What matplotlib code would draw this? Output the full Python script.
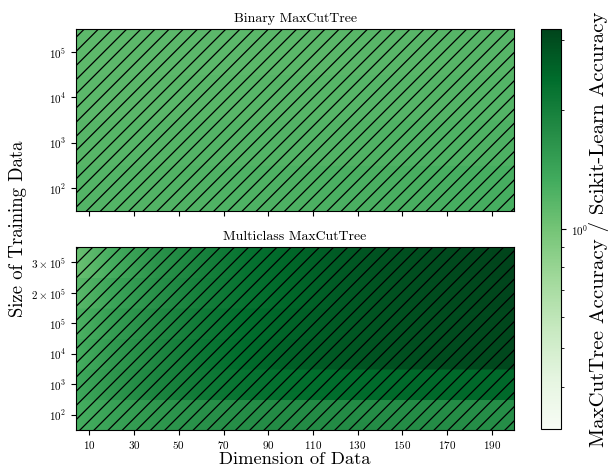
import numpy as np
import matplotlib
matplotlib.use("Agg")
import matplotlib.pyplot as plt
from matplotlib.colors import LogNorm
from matplotlib.cm import ScalarMappable
from matplotlib.patches import Rectangle
from matplotlib.ticker import NullFormatter

plt.rcParams['font.family'] = ['cmr10']
plt.rcParams['mathtext.fontset'] = 'cm'
plt.rcParams['axes.formatter.use_mathtext'] = True

# Rendering resolution; point sizes are scaled so pixel sizes stay fixed
DPI = 85
S = 100.0 / DPI
plt.rcParams['hatch.linewidth'] = 0.9 * S
plt.rcParams['axes.linewidth'] = 0.8 * S

# Data dimensions at which accuracy ratios are sampled
dims = [4, 20, 40, 60, 80, 100, 120, 140, 160, 180, 200]

# Training-set sizes (rows, bottom to top)
binary_sizes = [r'$10^2$', r'$10^3$', r'$10^4$', r'$10^5$']
multi_sizes = [r'$10^2$', r'$10^3$', r'$10^4$', r'$10^5$',
               r'$2\times10^5$', r'$3\times10^5$']

# MaxCutTree accuracy / scikit-learn accuracy, binary task
binary_ratio = [
    [1.20, 1.21, 1.22, 1.23, 1.24, 1.25, 1.26, 1.27, 1.28, 1.29, 1.30],  # 1e2
    [1.17, 1.18, 1.19, 1.20, 1.21, 1.22, 1.22, 1.23, 1.24, 1.24, 1.25],  # 1e3
    [1.15, 1.15, 1.16, 1.17, 1.17, 1.18, 1.18, 1.19, 1.19, 1.20, 1.20],  # 1e4
    [1.14, 1.14, 1.15, 1.15, 1.15, 1.16, 1.16, 1.17, 1.17, 1.18, 1.18],  # 1e5
]

# MaxCutTree accuracy / scikit-learn accuracy, multiclass task
multi_ratio = [
    [1.30, 1.45, 1.60, 1.70, 1.75, 1.78, 1.78, 1.77, 1.76, 1.75, 1.75],  # 1e2
    [1.35, 1.60, 1.90, 2.10, 2.25, 2.32, 2.38, 2.42, 2.44, 2.45, 2.45],  # 1e3
    [1.30, 1.55, 1.85, 2.15, 2.40, 2.60, 2.75, 2.88, 2.98, 3.05, 3.10],  # 1e4
    [1.25, 1.50, 1.80, 2.10, 2.35, 2.55, 2.72, 2.86, 2.97, 3.05, 3.12],  # 1e5
    [1.15, 1.40, 1.70, 2.00, 2.25, 2.50, 2.70, 2.85, 2.98, 3.08, 3.15],  # 2e5
    [1.05, 1.30, 1.65, 1.95, 2.25, 2.50, 2.70, 2.87, 3.00, 3.10, 3.20],  # 3e5
]

vmax = 3.2
vmin = 1.0 / vmax
norm = LogNorm(vmin=vmin, vmax=vmax)
cmap = 'Greens'

fig = plt.figure(figsize=(611 / DPI, 467 / DPI), dpi=DPI)
ax_top = fig.add_axes([0.1244, 0.5482, 0.7169, 0.3897])
ax_bot = fig.add_axes([0.1244, 0.0792, 0.7169, 0.3919])
cax = fig.add_axes([0.8854, 0.0814, 0.0327, 0.8565])


def draw_panel(ax, ratios, labels, title):
    x = np.asarray(dims, dtype=float)
    for i, row in enumerate(ratios):
        c = np.vstack([row, row])
        ax.pcolormesh(x, [i - 0.5, i + 0.5], c, shading='gouraud',
                      cmap=cmap, norm=norm)
    ax.set_xlim(x[0], x[-1])
    ax.set_ylim(-0.5, len(ratios) - 0.5)
    ax.set_yticks(range(len(labels)))
    ax.set_yticklabels(labels)
    ax.set_xticks(np.arange(10, 200, 20))
    ax.tick_params(labelsize=8 * S, length=3.5 * S, width=0.8 * S,
                   pad=3.5 * S)
    ax.add_patch(Rectangle((0, 0), 1, 1, transform=ax.transAxes,
                           fill=False, hatch='//', edgecolor='black',
                           linewidth=0, zorder=3))
    ax.set_title(title, fontsize=10 * S, pad=5 * S)


draw_panel(ax_top, binary_ratio, binary_sizes, 'Binary MaxCutTree')
ax_top.tick_params(labelbottom=False)
draw_panel(ax_bot, multi_ratio, multi_sizes, 'Multiclass MaxCutTree')
ax_bot.tick_params(axis='x', pad=3 * S)
ax_bot.set_xlabel('Dimension of Data', fontsize=13.3 * S, labelpad=0.3 * S)

fig.text(0.03, 0.51, 'Size of Training Data', rotation=90,
         fontsize=13.5 * S, ha='center', va='center')

sm = ScalarMappable(norm=norm, cmap=cmap)
cb = fig.colorbar(sm, cax=cax)
cb.outline.set_linewidth(0.8 * S)
cb.ax.yaxis.set_minor_formatter(NullFormatter())
cb.ax.tick_params(which='major', labelsize=8 * S, length=3.5 * S,
                  width=0.8 * S, pad=3.5 * S)
cb.ax.tick_params(which='minor', length=2 * S, width=0.6 * S)
cb.set_label('MaxCutTree Accuracy / Scikit-Learn Accuracy',
             fontsize=15 * S, labelpad=1 * S)

fig.savefig('out.png', dpi=DPI)
